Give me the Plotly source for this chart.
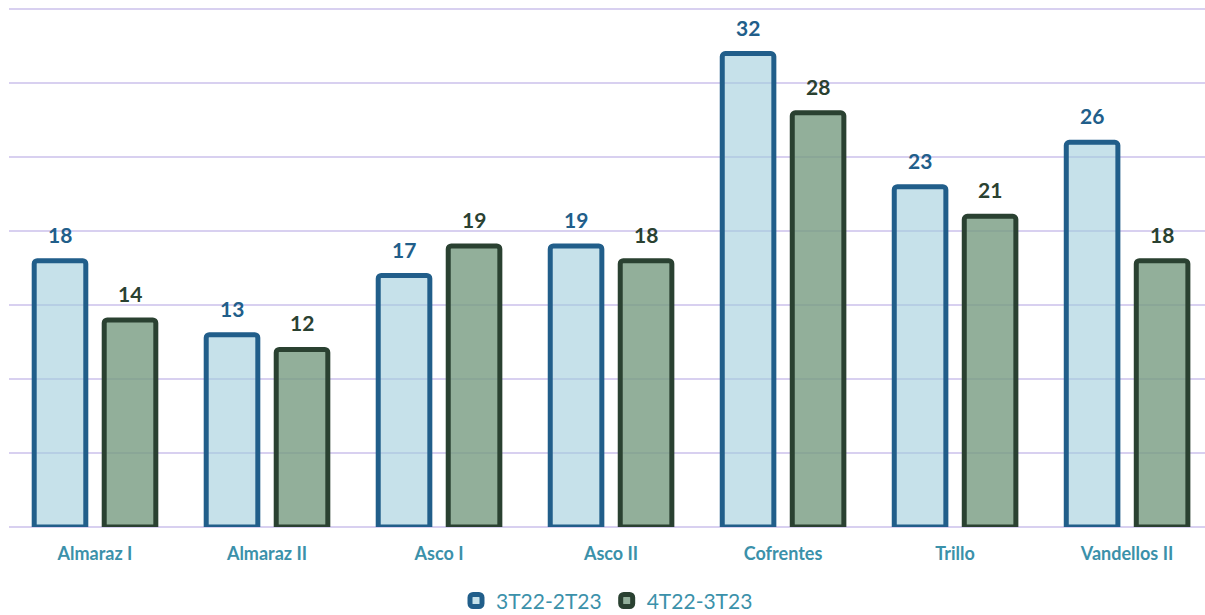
import plotly.graph_objects as go

categories = ["Almaraz I", "Almaraz II", "Asco I", "Asco II", "Cofrentes", "Trillo", "Vandellos II"]
series_names = ["3T22-2T23", "4T22-3T23"]
values_a = [18, 13, 17, 19, 32, 23, 26]
values_b = [14, 12, 19, 18, 28, 21, 18]

blue_line = "#215e8a"
blue_fill = "rgba(160,205,220,0.6)"
green_line = "#2a4131"
green_fill = "rgba(119,155,129,0.8)"
label_color = "#3b91aa"
grid_color = "#d8d0f0"

xs = list(range(len(categories)))
bw = 0.30
sep = 0.2035

fig = go.Figure()
for name, vals, lc, fc, off in [
    (series_names[0], values_a, blue_line, blue_fill, -sep),
    (series_names[1], values_b, green_line, green_fill, sep),
]:
    fig.add_trace(go.Bar(
        x=xs, y=vals, name=name, width=bw, offset=off - bw / 2,
        marker=dict(color=fc, line=dict(color=lc, width=5), cornerradius=3),
        hoverinfo="skip",
    ))
    for x, v in zip(xs, vals):
        fig.add_annotation(
            x=x + off, y=v, text=f"<b>{v}</b>", showarrow=False,
            yanchor="bottom", yshift=12,
            font=dict(family="Lato", size=21, color=lc),
        )

fig.update_layout(
    width=1205, height=615,
    margin=dict(l=9, r=0, t=7, b=88, autoexpand=False),
    plot_bgcolor="white", paper_bgcolor="white",
    showlegend=True,
    legend=dict(orientation="h", x=0.5, xanchor="center", y=-0.142, yanchor="middle",
                font=dict(family="Lato", size=21, color=label_color),
                itemwidth=30, tracegroupgap=0),
    xaxis=dict(range=[-0.5, 6.453], tickvals=xs, ticktext=categories,
               showgrid=False, zeroline=False, showline=False, ticks="",
               ticklabelstandoff=14,
               tickfont=dict(family="Lato", size=18, color=label_color, weight="bold")),
    yaxis=dict(range=[0, 35.15], tickvals=[0, 5, 10, 15, 20, 25, 30, 35], showgrid=True,
               gridcolor=grid_color, gridwidth=1.5,
               showticklabels=False, zeroline=True, zerolinecolor=grid_color, zerolinewidth=2,
               ticks=""),
)

fig.write_html("out.html")
